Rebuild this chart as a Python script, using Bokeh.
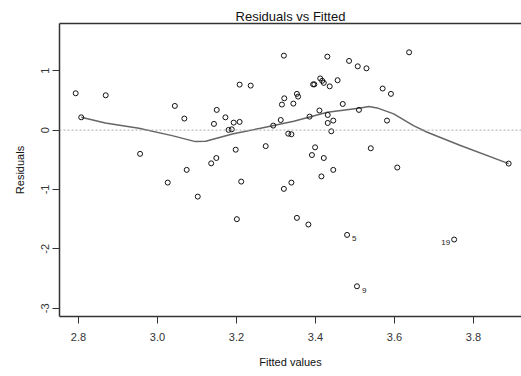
from bokeh.plotting import figure
from bokeh.models import Range1d, LinearAxis, FixedTicker, Span, ColumnDataSource
from bokeh.embed import file_html
from bokeh.resources import INLINE
from bokeh.core.properties import value

# ---- data ----
fitted = [2.793, 2.807, 2.869, 2.956, 3.026, 3.044, 3.068, 3.074, 3.102, 3.136,
          3.143, 3.149, 3.150, 3.172, 3.180, 3.188, 3.193, 3.208, 3.198, 3.208,
          3.236, 3.212, 3.201, 3.274, 3.293, 3.312, 3.315, 3.321, 3.320, 3.320,
          3.331, 3.339, 3.339, 3.344, 3.353, 3.356, 3.353, 3.382, 3.385, 3.391,
          3.394, 3.397, 3.399, 3.410, 3.412, 3.417, 3.421, 3.421, 3.415, 3.431,
          3.431, 3.430, 3.436, 3.440, 3.445, 3.445, 3.456, 3.469, 3.480, 3.485,
          3.505, 3.507, 3.510, 3.529, 3.540, 3.570, 3.581, 3.591, 3.607, 3.637,
          3.751, 3.889]
resid = [0.62, 0.215, 0.586, -0.40, -0.884, 0.407, 0.194, -0.67, -1.12, -0.56,
         0.104, -0.47, 0.34, 0.215, 0.003, 0.013, 0.126, 0.138, -0.33, 0.766,
         0.749, -0.867, -1.50, -0.27, 0.076, 0.17, 0.43, 0.535, 1.254, -0.99,
         -0.06, -0.07, -0.884, 0.446, 0.61, 0.564, -1.478, -1.59, 0.227, -0.42,
         0.77, 0.77, -0.29, 0.33, 0.87, 0.83, 0.795, -0.47, -0.78, 0.255,
         0.12, 1.237, 0.737, -0.02, 0.16, -0.67, 0.84, 0.44, -1.765, 1.165,
         -2.63, 1.074, 0.34, 1.04, -0.306, 0.70, 0.16, 0.61, -0.63, 1.31,
         -1.843, -0.564]

smooth_x = [2.807, 2.868, 2.953, 3.037, 3.096, 3.122, 3.192, 3.261, 3.345, 3.430,
            3.514, 3.535, 3.556, 3.598, 3.648, 3.683, 3.767, 3.889]
smooth_y = [0.215, 0.121, 0.030, -0.093, -0.194, -0.189, -0.06, 0.03, 0.148, 0.30,
            0.374, 0.396, 0.374, 0.273, 0.076, -0.037, -0.26, -0.564]

x_ticks = [2.8, 3.0, 3.2, 3.4, 3.6, 3.8]
x_tick_labels = ["2.8", "3.0", "3.2", "3.4", "3.6", "3.8"]
y_ticks = [-3, -2, -1, 0, 1]
y_tick_labels = ["-3", "-2", "-1", "0", "1"]

label_names = ["5", "9", "19"]
label_index = [58, 60, 70]

title_text = "Residuals vs Fitted"
x_title = "Fitted values"
y_title = "Residuals"

FONT = "Liberation Sans"
INK = "#333333"

p = figure(width=521, height=376,
           x_range=Range1d(2.752, 3.9215), y_range=Range1d(-3.139, 1.795),
           output_backend="svg", toolbar_location=None,
           min_border_left=59, min_border_right=0, min_border_top=23, min_border_bottom=60,
           background_fill_color="white", border_fill_color="white")
p.outline_line_color = None
p.xgrid.visible = False
p.ygrid.visible = False

p.title.text = title_text
p.title.align = "center"
p.title.text_font = FONT
p.title.text_font_size = "13px"
p.title.text_font_style = "normal"
p.title.text_color = "#111111"
p.title.standoff = 0
p.title.offset = 0

# axes
for ax in (p.xaxis[0], p.yaxis[0]):
    ax.axis_line_color = INK
    ax.axis_line_width = 1.5
    ax.major_tick_line_color = INK
    ax.major_tick_line_width = 1
    ax.major_tick_in = 0
    ax.major_tick_out = 7
    ax.minor_tick_line_color = None
    ax.major_label_text_font = FONT
    ax.major_label_text_font_size = "11px"
    ax.major_label_text_color = INK
    ax.axis_label_text_font = FONT
    ax.axis_label_text_font_size = "11px"
    ax.axis_label_text_font_style = "normal"
    ax.axis_label_text_color = "#111111"

p.xaxis[0].ticker = FixedTicker(ticks=x_ticks)
p.xaxis[0].major_label_overrides = {t: l for t, l in zip(x_ticks, x_tick_labels)}
p.xaxis[0].major_label_standoff = 9
p.xaxis[0].axis_label = x_title
p.xaxis[0].axis_label_standoff = 12

p.yaxis[0].ticker = FixedTicker(ticks=y_ticks)
p.yaxis[0].major_label_overrides = {t: l for t, l in zip(y_ticks, y_tick_labels)}
p.yaxis[0].major_label_orientation = "vertical"
p.yaxis[0].major_label_standoff = 3
p.yaxis[0].axis_label = y_title
p.yaxis[0].axis_label_standoff = 13

top = LinearAxis(ticker=FixedTicker(ticks=[]), axis_line_color=INK, axis_line_width=1.5,
                 major_tick_out=0, major_tick_in=0, minor_tick_out=0, minor_tick_in=0,
                 major_label_standoff=0, major_label_text_font_size="0px")
p.add_layout(top, "above")

# zero reference line
p.add_layout(Span(location=0, dimension="width", line_color="#aaaaaa",
                  line_width=1, line_dash="2 2"))

# smoother
p.line(smooth_x, smooth_y, line_color="#666666", line_width=1.5)

# points
p.scatter(fitted, resid, size=5, marker="circle", fill_color=None,
          line_color="#111111", line_width=1)

# point labels
lab_src = ColumnDataSource(dict(
    x=[fitted[i] for i in label_index],
    y=[resid[i] for i in label_index],
    t=label_names,
    xo=[5, 5, -4],
    yo=[4, 4, 3],
    al=["left", "left", "right"]))
p.text(x="x", y="y", text="t", x_offset="xo", y_offset="yo", text_align="al",
       text_baseline="middle", text_font=value(FONT), text_font_size="8px",
       text_color="#222222", source=lab_src)

open("out.html", "w").write(file_html(p, INLINE))
